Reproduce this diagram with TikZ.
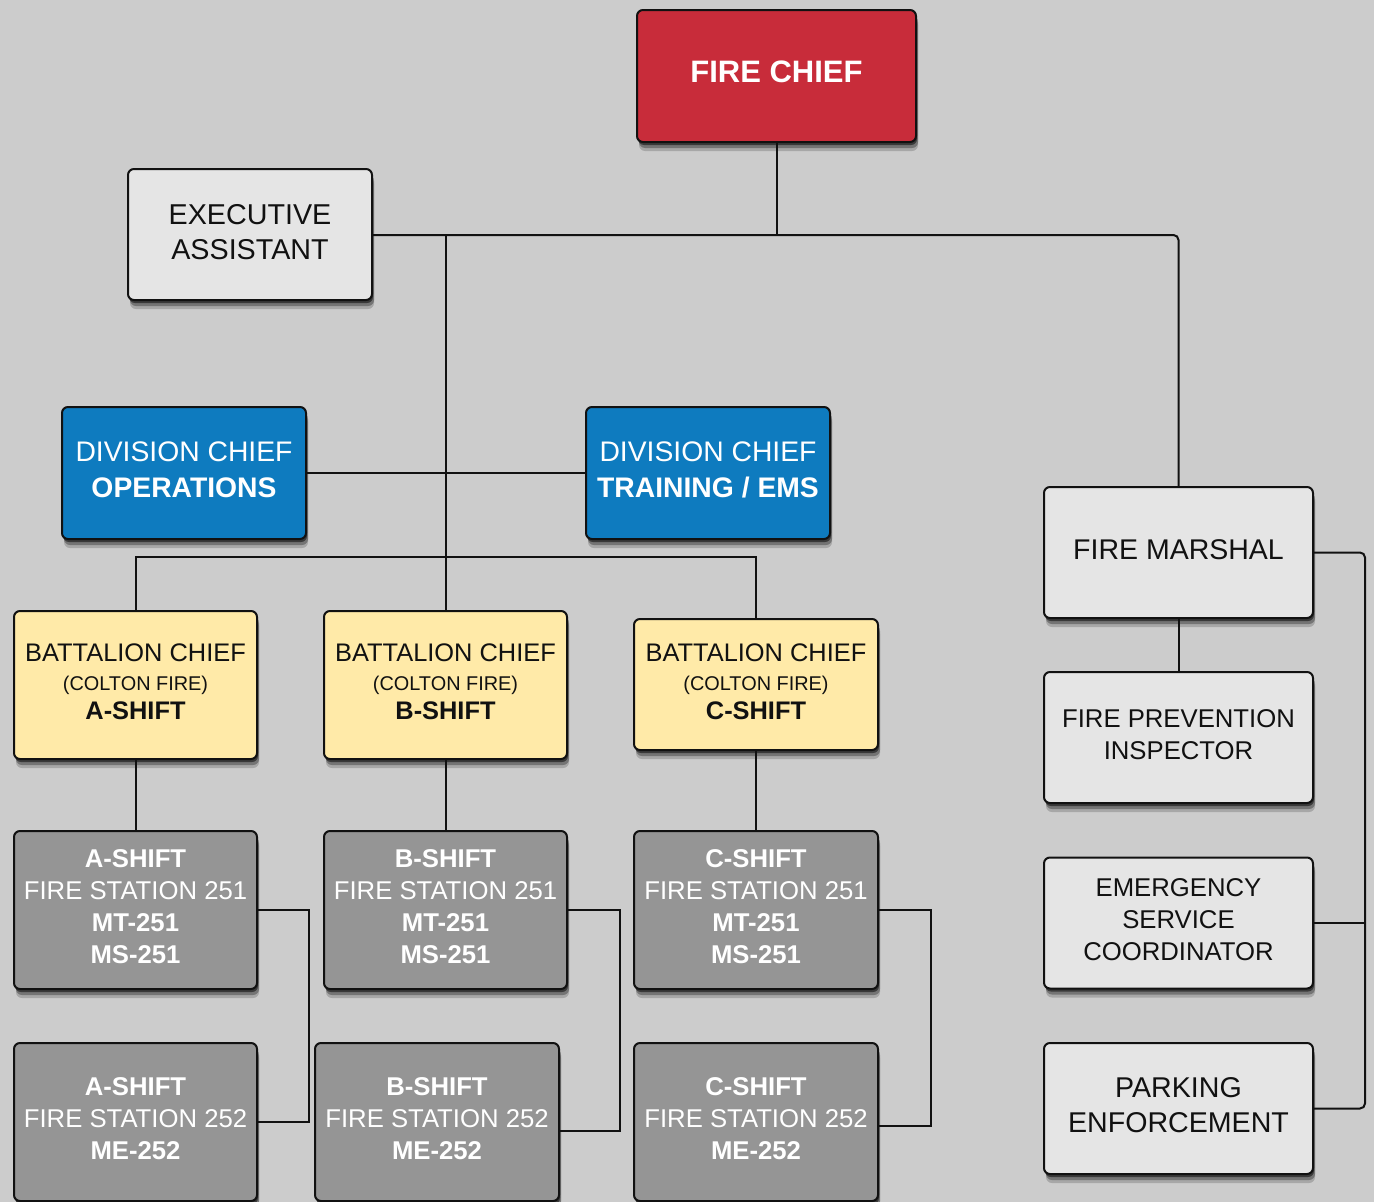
\documentclass[tikz,border=0pt]{standalone}
\usepackage{fontspec}
\setmainfont{Liberation Sans}
\usetikzlibrary{shadows}
\definecolor{bgc}{HTML}{CCCCCC}
\definecolor{chiefc}{HTML}{C82C3A}
\definecolor{lightc}{HTML}{E5E5E5}
\definecolor{bluec}{HTML}{0E7BBF}
\definecolor{yellowc}{HTML}{FFEAA8}
\definecolor{grayc}{HTML}{959595}
\definecolor{inkc}{HTML}{111111}
\begin{document}
\begin{tikzpicture}[x=1pt,y=-1pt,
  box/.style={draw=inkc, line width=2pt, rounded corners=6pt, align=center, inner sep=0pt,
    text depth=6pt,
    drop shadow={shadow xshift=2pt,shadow yshift=-9pt,opacity=.18,fill=black},
    drop shadow={shadow xshift=2pt,shadow yshift=-6pt,opacity=.3,fill=black},
    drop shadow={shadow xshift=1pt,shadow yshift=-3pt,opacity=.5,fill=black}},
  chiefbox/.style={box, fill=chiefc, text=white, minimum width=279pt, minimum height=132pt,
    text depth=8pt, font=\bfseries\fontsize{31}{37}\selectfont},
  lightbox/.style={box, fill=lightc, text=inkc},
  bluebox/.style={box, fill=bluec, text=white, minimum width=244pt, minimum height=132pt,
    font=\fontsize{28.3}{36}\selectfont},
  yellowbox/.style={box, fill=yellowc, text=inkc, minimum width=243pt, minimum height=148pt,
    font=\fontsize{25.4}{29}\selectfont},
  graybox/.style={box, fill=grayc, text=white, minimum width=243pt, minimum height=158pt,
    font=\fontsize{25.7}{32}\selectfont},
  rightbox/.style={lightbox, minimum width=269pt, minimum height=131pt},
  colton/.style={},
  conn/.style={draw=inkc, line width=2pt}]
\fill[bgc] (0,0) rectangle (1374,1202);
\clip (0,0) rectangle (1374,1202);
\useasboundingbox (0,0) rectangle (1374,1202);

% nodes
\node[chiefbox] (chief) at (776.5,76) {FIRE CHIEF};
\node[lightbox, minimum width=244pt, minimum height=131pt, font=\fontsize{28.7}{35}\selectfont] (exec) at (250,234.5) {EXECUTIVE\\ASSISTANT};
\node[bluebox] (ops) at (184,473) {DIVISION CHIEF\\\textbf{OPERATIONS}};
\node[bluebox] (train) at (708,473) {DIVISION CHIEF\\\textbf{TRAINING / EMS}};

\node[yellowbox] (battA) at (135.5,685) {BATTALION CHIEF\\{\fontsize{19.9}{29}\selectfont (COLTON FIRE)}\\\textbf{A-SHIFT}};
\node[yellowbox] (battB) at (445.5,685) {BATTALION CHIEF\\{\fontsize{19.9}{29}\selectfont (COLTON FIRE)}\\\textbf{B-SHIFT}};
\node[yellowbox, minimum width=244pt, minimum height=131pt] (battC) at (756,684.5) {BATTALION CHIEF\\{\fontsize{19.9}{29}\selectfont (COLTON FIRE)}\\\textbf{C-SHIFT}};

\node[graybox] (stA1) at (135.5,910) {\textbf{A-SHIFT}\\FIRE STATION 251\\\textbf{MT-251}\\\textbf{MS-251}};
\node[graybox] (stB1) at (445.5,910) {\textbf{B-SHIFT}\\FIRE STATION 251\\\textbf{MT-251}\\\textbf{MS-251}};
\node[graybox, minimum width=244pt] (stC1) at (756,910) {\textbf{C-SHIFT}\\FIRE STATION 251\\\textbf{MT-251}\\\textbf{MS-251}};

\node[graybox] (stA2) at (135.5,1122) {\textbf{A-SHIFT}\\FIRE STATION 252\\\textbf{ME-252}};
\node[graybox, minimum width=244pt] (stB2) at (437,1122) {\textbf{B-SHIFT}\\FIRE STATION 252\\\textbf{ME-252}};
\node[graybox, minimum width=244pt] (stC2) at (756,1122) {\textbf{C-SHIFT}\\FIRE STATION 252\\\textbf{ME-252}};

\node[rightbox, font=\fontsize{28.5}{35}\selectfont] (marshal) at (1178.5,552.5) {FIRE MARSHAL};
\node[rightbox, font=\fontsize{25.7}{32}\selectfont] (insp) at (1178.5,737.5) {FIRE PREVENTION\\INSPECTOR};
\node[rightbox, font=\fontsize{25.7}{32}\selectfont] (emerg) at (1178.5,923) {EMERGENCY\\SERVICE\\COORDINATOR};
\node[rightbox, font=\fontsize{28.6}{35}\selectfont] (park) at (1178.5,1108.5) {PARKING\\ENFORCEMENT};

% connectors
\coordinate (trunk) at (0,235);
\coordinate (bus) at (0,557);
\coordinate (rx) at (1365,0);
\coordinate (ax) at (309,0);
\coordinate (bx) at (620,0);
\coordinate (cx) at (931,0);

\draw[conn] (chief.south) -- (chief.south |- trunk);
\draw[conn, rounded corners=5pt] (exec.east |- trunk) -| (marshal.north);
\draw[conn] (battB.north |- trunk) -- (battB.north);
\draw[conn] (ops.east) -- (train.west);
\draw[conn] (battA.north) |- (battC.north |- bus) -- (battC.north);

\draw[conn] (battA.south) -- (stA1.north);
\draw[conn] (battB.south) -- (stB1.north);
\draw[conn] (battC.south) -- (stC1.north);

\draw[conn] (stA1.east) -| (ax |- stA2.east) -- (stA2.east);
\draw[conn] (stB1.east) -| ([yshift=-9pt]stB2.east -| bx) -- ([yshift=-9pt]stB2.east);
\draw[conn] (stC1.east) -| ([yshift=-4pt]stC2.east -| cx) -- ([yshift=-4pt]stC2.east);

\draw[conn] (marshal.south) -- (insp.north);
\draw[conn, rounded corners=5pt] (marshal.east) -| (rx |- park.east) -- (park.east);
\draw[conn] (emerg.east) -- (emerg.east -| rx);
\end{tikzpicture}
\end{document}
